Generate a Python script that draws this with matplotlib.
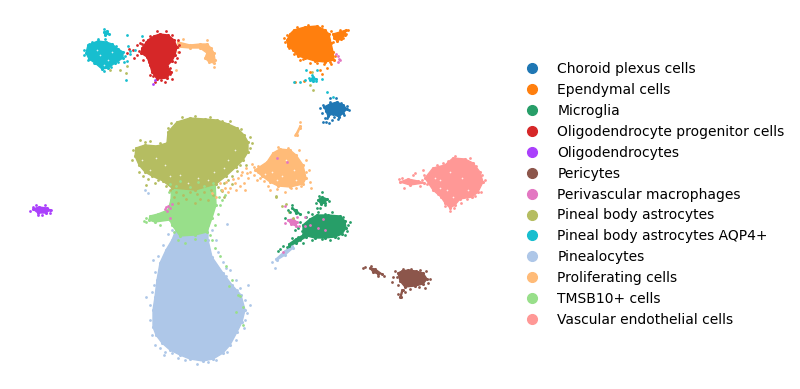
import matplotlib
matplotlib.use('Agg')
import matplotlib.pyplot as plt
from matplotlib.lines import Line2D

categories = ['Choroid plexus cells', 'Ependymal cells', 'Microglia',
              'Oligodendrocyte progenitor cells', 'Oligodendrocytes', 'Pericytes',
              'Perivascular macrophages', 'Pineal body astrocytes',
              'Pineal body astrocytes AQP4+', 'Pinealocytes', 'Proliferating cells',
              'TMSB10+ cells', 'Vascular endothelial cells']
colors = ['#1f77b4', '#ff7f0e', '#279e68', '#d62728', '#aa40fc', '#8c564b', '#e377c2',
          '#b5bd61', '#17becf', '#aec7e8', '#ffbb78', '#98df8a', '#ff9896']

choroid_shape = [[(324, 107), (330, 104), (337, 102), (343, 105), (347, 109), (343, 113), (339, 117), (333, 114), (328, 116), (326, 111)]]
ependymal_shape = [[(287, 40), (290, 34), (294, 30), (305, 27), (317, 26), (325, 30), (329, 34), (331, 43), (333, 52), (334, 60), (325, 62), (315, 61), (305, 58), (298, 56), (293, 50), (288, 46)],
                   [(333, 34), (340, 32), (346, 30), (345, 35), (341, 39), (337, 41), (334, 38)]]
microglia_shape = [[(303, 225), (310, 219), (317, 215), (328, 215), (340, 216), (345, 221), (346, 228), (342, 234), (335, 237), (325, 238), (315, 238), (303, 235)],
                   [(318, 200), (322, 197), (327, 199), (325, 203), (321, 204)],
                   [(305, 234), (296, 239), (289, 244), (289, 246), (296, 243), (306, 237)],
                   [(292, 208), (296, 210), (300, 214), (296, 213)]]
opc_shape = [[(142, 48), (148, 40), (154, 36), (160, 34), (168, 35), (174, 40), (177, 47), (175, 55), (172, 61), (167, 66), (171, 72), (167, 78), (157, 79), (152, 72), (150, 65), (147, 57), (141, 53)]]
oligo_shape = [[(33, 209), (39, 207), (47, 208), (50, 210), (46, 213), (38, 213)]]
pericyte_shape = [[(398, 273), (402, 271), (408, 270), (416, 271), (423, 273), (427, 279), (423, 284), (415, 286), (405, 287), (400, 281)],
                  [(370, 268), (375, 269), (382, 274), (378, 274), (373, 272)],
                  [(400, 297), (402, 290), (403, 290), (401, 297)]]
macrophage_shape = [[(288, 220), (293, 219), (297, 222), (296, 226), (291, 224)]]
astrocyte_shape = [[(136, 148), (145, 145), (157, 146), (167, 143), (168, 132), (177, 122), (190, 118), (205, 119), (217, 120), (228, 124), (237, 128), (244, 135), (248, 142), (248, 152), (243, 160), (236, 167), (226, 176), (216, 184), (195, 190), (172, 188), (163, 181), (152, 176), (145, 172), (139, 165), (135, 156)]]
aqp4_shape = [[(86, 53), (88, 45), (98, 41), (106, 42), (112, 44), (118, 49), (123, 52), (123, 58), (115, 63), (108, 68), (102, 69), (95, 63), (89, 59)],
              [(104, 32), (107, 31), (109, 34), (105, 35)],
              [(310, 80), (313, 77), (316, 79), (313, 81)]]
pinealocyte_shape = [[(178, 225), (208, 225), (208, 240), (212, 257), (223, 273), (232, 285), (241, 295), (245, 310), (242, 322), (237, 332), (230, 345), (223, 353), (213, 359), (203, 361), (190, 359), (180, 355), (170, 350), (162, 343), (156, 335), (153, 327), (153, 310), (155, 297), (157, 280), (160, 263), (166, 250), (172, 240)],
                     [(276, 259), (285, 251), (292, 246), (293, 248), (285, 255), (277, 260)]]
proliferating_shape = [[(178, 42), (190, 45), (200, 44), (207, 44), (211, 48), (214, 53), (215, 60), (214, 63), (209, 62), (205, 58), (207, 53), (200, 48), (190, 48), (178, 47)],
                       [(255, 170), (267, 162), (273, 153), (280, 149), (290, 150), (296, 155), (303, 165), (306, 178), (303, 184), (290, 187), (278, 186), (270, 182), (262, 176)],
                       [(300, 126), (300, 128), (297, 135), (296, 134)]]
tmsb10_shape = [[(172, 178), (195, 178), (215, 178), (216, 205), (212, 218), (207, 232), (195, 235), (180, 236), (172, 225), (170, 220), (155, 222), (149, 220), (150, 216), (158, 214), (168, 210), (171, 200)]]
vascular_shape = [[(425, 178), (433, 168), (445, 165), (453, 158), (465, 159), (473, 163), (480, 172), (483, 182), (478, 192), (472, 197), (460, 199), (455, 205), (450, 208), (445, 203), (441, 197), (433, 190)],
                  [(400, 182), (408, 179), (418, 181), (424, 183), (410, 185)]]

# stray cells around each cluster
choroid_pts = [(326, 122), (327, 118), (323, 122), (332, 120), (330, 98), (336, 98), (320, 108), (322, 113), (349, 110), (325, 118), (329, 123), (338, 119), (347, 106), (344, 115), (323, 105), (330, 102), (341, 103), (334, 117)]
ependymal_pts = [(285, 42), (284, 38), (300, 60), (310, 63), (324, 64), (297, 27), (308, 25), (322, 26), (348, 30), (327, 68), (320, 70), (322, 74), (304, 81), (295, 82), (310, 72), (292, 33), (331, 64), (340, 30), (287, 35), (289, 48), (294, 54), (303, 59), (317, 63), (330, 62), (335, 56), (331, 31), (333, 42), (343, 38), (346, 34)]
microglia_pts = [(298, 228), (300, 222), (308, 212), (318, 212), (332, 212), (348, 225), (345, 235), (330, 240), (312, 240), (300, 238), (292, 238), (283, 246), (278, 251), (317, 208), (320, 208), (288, 210), (285, 218), (322, 192), (295, 230), (280, 249), (303, 243), (350, 222), (343, 217), (347, 231), (338, 238), (322, 239), (306, 217), (312, 214), (325, 214), (302, 231), (298, 237), (294, 241), (287, 247), (316, 203), (329, 201), (319, 196), (325, 205), (300, 240), (290, 212), (292, 205)]
opc_pts = [(133, 50), (129, 49), (137, 45), (140, 43), (143, 40), (137, 55), (179, 45), (175, 62), (172, 79), (165, 82), (155, 82), (150, 75), (143, 60), (157, 31), (166, 31), (127, 53), (134, 58), (145, 52), (170, 74), (150, 36), (146, 42), (172, 35), (178, 40), (179, 52), (177, 58), (153, 76), (161, 80), (170, 68), (149, 62), (142, 44), (139, 51)]
oligo_pts = [(30, 211), (33, 207), (51, 210), (50, 213), (42, 215), (38, 215), (45, 205), (36, 205), (155, 80), (153, 84)]
pericyte_pts = [(365, 267), (371, 266), (378, 276), (384, 276), (393, 277), (392, 282), (395, 271), (420, 270), (430, 279), (425, 288), (410, 289), (405, 292), (398, 294), (363, 268), (426, 271), (411, 269), (403, 269), (428, 283), (419, 287), (397, 277), (398, 285)]
macrophage_pts = [(338, 56), (339, 59), (338, 62), (340, 60), (336, 54), (166, 207), (168, 206), (170, 208), (167, 211), (170, 218), (285, 206), (305, 226), (318, 228), (325, 230), (305, 217), (323, 219), (297, 217), (299, 226), (285, 223), (310, 225), (283, 252), (277, 158), (287, 162), (165, 209), (172, 204)]
astrocyte_pts = [(133, 150), (145, 142), (150, 141), (160, 143), (132, 160), (139, 172), (148, 179), (146, 185), (195, 116), (210, 117), (230, 121), (250, 148), (252, 143), (246, 165), (232, 184), (155, 183), (282, 206), (286, 204), (289, 212), (293, 218), (276, 197), (120, 70), (110, 70), (126, 73), (127, 66), (171, 123), (168, 128), (310, 85), (313, 90), (312, 72), (276, 196),
                 (224, 197), (170, 190), (176, 192), (183, 195), (190, 192), (197, 194), (204, 192), (211, 190), (218, 187), (224, 183), (228, 180), (232, 176), (166, 186), (174, 197), (186, 199), (200, 199), (213, 195), (222, 191), (237, 171), (240, 165), (178, 203), (195, 203), (208, 200), (169, 180), (158, 180), (143, 176), (140, 140), (182, 117), (222, 121), (241, 129), (250, 137)]
aqp4_pts = [(127, 35), (126, 80), (127, 61), (130, 51), (135, 50), (142, 36), (128, 46), (84, 55), (98, 39), (305, 80), (294, 82), (300, 82), (322, 79), (317, 70), (306, 70), (327, 92), (333, 97), (104, 29), (124, 62), (89, 44), (84, 50), (92, 42), (105, 39), (116, 46), (125, 56), (118, 62), (111, 67), (104, 71), (94, 63), (88, 60), (312, 75), (309, 78), (316, 81), (130, 54)]
pinealocyte_pts = [(146, 297), (152, 292), (150, 320), (155, 345), (165, 352), (178, 358), (160, 348), (235, 300), (240, 288), (245, 300), (250, 305), (245, 320), (248, 285), (236, 280), (230, 270), (226, 268), (216, 360), (197, 364), (164, 355), (153, 260), (155, 272), (275, 268), (272, 262), (145, 190), (148, 193), (227, 224), (216, 240), (218, 252), (223, 262), (212, 230),
                   (152, 335), (150, 305), (154, 285), (158, 256), (163, 245), (168, 234), (172, 230), (247, 313), (244, 328), (236, 340), (227, 352), (208, 362), (185, 360), (172, 353), (226, 276), (237, 290)]
proliferating_pts = [(183, 39), (178, 52), (214, 67), (207, 40), (300, 122), (291, 188), (310, 182), (309, 170), (306, 160), (245, 190), (236, 190), (225, 188), (220, 183), (228, 192), (241, 175), (257, 180), (270, 190), (285, 192), (254, 167), (299, 150), (311, 188), (176, 70), (295, 135),
                     (238, 178), (242, 172), (246, 168), (250, 172), (248, 178), (254, 175), (244, 183), (235, 183), (230, 188), (226, 182), (252, 164), (258, 166), (260, 178), (264, 181), (240, 186), (233, 179), (247, 173), (258, 172), (278, 147), (288, 148), (306, 172), (301, 186), (268, 186), (277, 189), (296, 188), (222, 190), (216, 197), (212, 193)]
tmsb10_pts = [(146, 218), (144, 221), (160, 225), (162, 219), (220, 205), (222, 200), (218, 214), (215, 225), (212, 240), (215, 248), (220, 256), (226, 266), (232, 280), (240, 296), (243, 307), (238, 295), (229, 286), (166, 215), (225, 195), (146, 222), (236, 312), (243, 325), (178, 240), (185, 243), (205, 240), (210, 235), (195, 239), (174, 232), (176, 186), (190, 187), (204, 186), (213, 183), (170, 184), (180, 181), (198, 182), (169, 192), (221, 190), (219, 197)]
vascular_pts = [(399, 179), (402, 178), (404, 188), (413, 175), (415, 173), (423, 170), (430, 176), (455, 156), (470, 158), (485, 180), (481, 192), (450, 211), (445, 206), (435, 190), (429, 181), (475, 196), (420, 186), (461, 203), (459, 163), (437, 165), (443, 163), (448, 161), (476, 166), (482, 175), (467, 199), (424, 175), (427, 184), (422, 180), (438, 194), (454, 208)]

# small holes between cells in the less dense clusters
gap_pts = [(142, 160), (150, 170), (156, 158), (180, 175), (198, 178), (214, 172), (228, 160), (235, 150), (224, 168), (208, 180), (188, 183), (170, 176), (165, 165),
           (272, 172), (282, 176), (294, 170), (286, 160), (277, 180), (296, 180), (265, 174),
           (440, 180), (450, 172), (447, 190), (462, 178), (453, 197), (440, 188), (468, 190), (435, 178),
           (100, 55), (108, 60), (97, 50), (112, 52), (104, 65)]

shapes = [choroid_shape, ependymal_shape, microglia_shape, opc_shape, oligo_shape,
          pericyte_shape, macrophage_shape, astrocyte_shape, aqp4_shape, pinealocyte_shape,
          proliferating_shape, tmsb10_shape, vascular_shape]
strays = [choroid_pts, ependymal_pts, microglia_pts, opc_pts, oligo_pts, pericyte_pts,
          macrophage_pts, astrocyte_pts, aqp4_pts, pinealocyte_pts, proliferating_pts,
          tmsb10_pts, vascular_pts]

# same overlap as the reference: pinealocytes below, astrocytes on top
draw_order = [9, 11, 7, 10, 0, 1, 2, 3, 4, 5, 8, 12, 6]

fig = plt.figure(figsize=(8, 3.89), dpi=100)
ax = fig.add_axes([0, 0, 1, 1])
ax.set_xlim(0, 800)
ax.set_ylim(389, 0)
ax.axis('off')

for i in draw_order:
    for outline in shapes[i]:
        xs, ys = zip(*outline)
        ax.fill(xs, ys, color=colors[i], lw=1, joinstyle='round')
        ax.scatter(xs, ys, s=5, color=colors[i], lw=0)
    xs, ys = zip(*strays[i])
    ax.scatter(xs, ys, s=4, color=colors[i], lw=0, zorder=3)

xs, ys = zip(*gap_pts)
ax.scatter(xs, ys, s=1.5, color='white', lw=0, alpha=0.8, zorder=2.5)

handles = [Line2D([], [], ls='', marker='o', ms=7, color=c, label=n)
           for c, n in zip(colors, categories)]
ax.legend(handles=handles, frameon=False, loc='center left', bbox_to_anchor=(0.648, 0.5)
          , fontsize=10, labelspacing=0.495, handletextpad=0.8, borderpad=0, borderaxespad=0)

fig.savefig('out.png', dpi=100)
